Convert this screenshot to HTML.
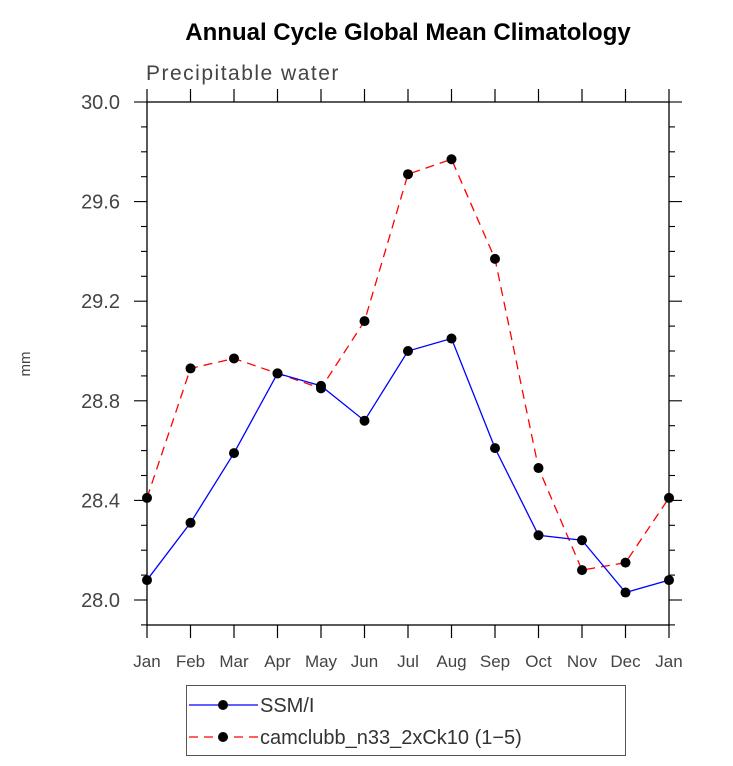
<!DOCTYPE html>
<html><head><meta charset="utf-8"><style>
body{margin:0;background:#fff;}
svg text{font-family:"Liberation Sans",sans-serif;}
</style></head><body>
<svg id="c" width="733" height="761" xmlns="http://www.w3.org/2000/svg">
<text x="408" y="40" text-anchor="middle" font-size="24" font-weight="bold">Annual Cycle Global Mean Climatology</text>
<text x="146" y="80" font-size="21" fill="#444" letter-spacing="1.5">Precipitable water</text>
<text x="30" y="364" font-size="15" fill="#444" transform="rotate(-90 30 364)" text-anchor="middle">mm</text>
<g id="axes"></g><g id="series"></g>
<rect x="186.5" y="685.5" width="439" height="70" fill="none" stroke="#555"/>
<g>
<line x1="189" y1="705" x2="258" y2="705" stroke="#00f" stroke-width="1.3"/>
<circle cx="223" cy="705" r="5" fill="#000"/>
<text x="260" y="712" font-size="20" fill="#333">SSM/I</text></g>
<g>
<line x1="189" y1="737" x2="258" y2="737" stroke="#f00" stroke-width="1.3" stroke-dasharray="9,6"/>
<circle cx="223" cy="737" r="5" fill="#000"/>
<text x="260" y="744" font-size="20" fill="#333">camclubb_n33_2xCk10 (1−5)</text></g>
</svg>
<script>
const months=["Jan","Feb","Mar","Apr","May","Jun","Jul","Aug","Sep","Oct","Nov","Dec","Jan"];
const ssmi=[28.08,28.31,28.59,28.91,28.86,28.72,29.00,29.05,28.61,28.26,28.24,28.03,28.08];
const cam=[28.41,28.93,28.97,28.91,28.85,29.12,29.71,29.77,29.37,28.53,28.12,28.15,28.41];
const yTicks=["28.0","28.4","28.8","29.2","29.6","30.0"];
const L=147,R=669,T=102,B=625,NS="http://www.w3.org/2000/svg";
const xs=i=>L+i*(R-L)/12, ys=v=>600-(v-28)*249;
function mk(p,tag,a,name){const e=document.createElementNS(NS,tag);for(const k in a)e.setAttribute(k,a[k]);


p.appendChild(e);return e;}
const ax=document.getElementById('axes');
mk(ax,'rect',{x:L,y:T,width:R-L,height:B-T,fill:'none',stroke:'#000','stroke-width':1.3},'plot-frame');
months.forEach((m,i)=>{const x=xs(i);
mk(ax,'line',{x1:x,y1:B,x2:x,y2:B+13,stroke:'#000','stroke-width':1.2},'x-tick');
mk(ax,'line',{x1:x,y1:T,x2:x,y2:T-13,stroke:'#000','stroke-width':1.2},'x-tick-top');
const t=mk(ax,'text',{x:x,y:667,'text-anchor':'middle','font-size':17,fill:'#444'},'x-tick-label');t.textContent=m;});
for(let k=0;k<=21;k++){const v=27.9+k*0.1,y=ys(v);if(y<T-0.5)break;const major=Math.abs((v-28)/0.4-Math.round((v-28)/0.4))<1e-6&&v>=27.99;
const len=major?13:6;
mk(ax,'line',{x1:L-len,y1:y,x2:L,y2:y,stroke:'#000','stroke-width':1.1},'y-tick');
mk(ax,'line',{x1:R,y1:y,x2:R+len,y2:y,stroke:'#000','stroke-width':1.1},'y-tick-right');}
yTicks.forEach(s=>{const t=mk(ax,'text',{x:120,y:ys(+s)+7,'text-anchor':'end','font-size':20,fill:'#444'},'y-tick-label');t.textContent=s;});
const sg=document.getElementById('series');
function series(d,col,dash,name){
mk(sg,'polyline',{points:d.map((v,i)=>xs(i)+','+ys(v)).join(' '),fill:'none',stroke:col,'stroke-width':1.3,'stroke-dasharray':dash},name+'-line');
d.forEach((v,i)=>mk(sg,'circle',{cx:xs(i),cy:ys(v),r:5,fill:'#000'},name+'-point'));}
series(cam,'#f00','9,6','cam');
series(ssmi,'#00f','none','ssmi');
</script>
</body></html>
